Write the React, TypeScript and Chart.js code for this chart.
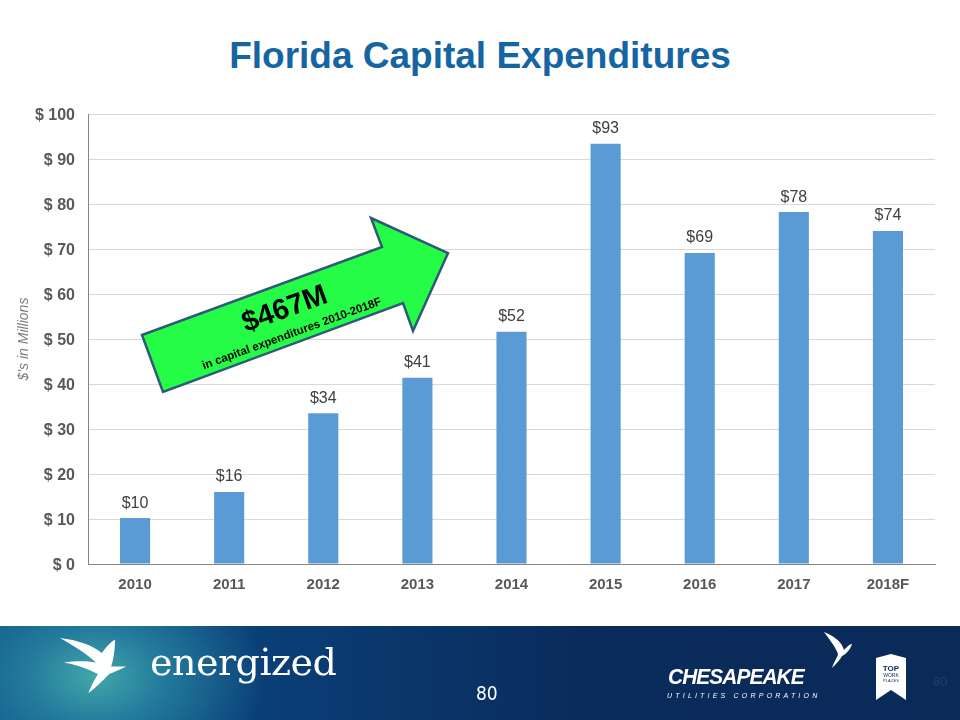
import React, { useEffect, useRef } from "react";
import { Chart, registerables } from "chart.js";

Chart.register(...registerables);

const categories = ["2010", "2011", "2012", "2013", "2014", "2015", "2016", "2017", "2018F"];
const capexValues = [10.2, 16.0, 33.5, 41.4, 51.6, 93.4, 69.1, 78.2, 74.0];
const yTickValues = [0, 10, 20, 30, 40, 50, 60, 70, 80, 90, 100];

const barLabels = {
  id: "barLabels",
  afterDatasetsDraw(chart: any) {
    const ctx = chart.ctx;
    const meta = chart.getDatasetMeta(0);
    ctx.save();
    ctx.font = "16px Arial, 'Liberation Sans', sans-serif";
    ctx.fillStyle = "#404040";
    ctx.textAlign = "center";
    ctx.textBaseline = "bottom";
    meta.data.forEach((el: any, i: number) => {
      const v = chart.data.datasets[0].data[i] as number;
      ctx.fillText("$" + Math.round(v), el.x, el.y - 7);
    });
    ctx.restore();
  },
};

function Bird({ x, y, s }: { x: number; y: number; s: number }) {
  return (
    <svg style={{ position: "absolute", left: x, top: y }} width={80 * s} height={60 * s} viewBox="0 0 80 60">
      <path
        d="M2 2 C20 4 38 10 46 18 C52 10 56 6 60 4 C60 16 58 26 56 32 L72 32 C64 36 58 38 54 40 C46 48 38 56 32 60 C36 50 40 44 42 40 C30 34 18 30 6 28 C18 26 30 26 40 28 C30 18 16 10 2 2 Z"
        fill="#ffffff"
      />
    </svg>
  );
}

export default function App() {
  const canvasRef = useRef<HTMLCanvasElement | null>(null);

  useEffect(() => {
    if (!canvasRef.current) return;
    const chart = new Chart(canvasRef.current, {
      type: "bar",
      data: {
        labels: categories,
        datasets: [
          {
            data: capexValues,
            backgroundColor: "#5b9bd5",
            borderWidth: 0,
            categoryPercentage: 0.8,
            barPercentage: 0.4,
          },
        ],
      },
      options: {
        animation: false,
        responsive: false,
        maintainAspectRatio: false,
        layout: { padding: { top: 114, right: 25, left: 0, bottom: 0 } },
        plugins: {
          legend: { display: false },
          tooltip: { enabled: false },
          title: { display: false },
        },
        scales: {
          x: {
            grid: { display: false },
            border: { display: true, color: "#868686", width: 1 },
            ticks: {
              color: "#595959",
              font: { family: "Arial, 'Liberation Sans', sans-serif", size: 15, weight: "bold" },
              padding: 4,
            },
            afterFit(scale: any) {
              scale.height = 56;
            },
          },
          y: {
            min: 0,
            max: 100,
            afterBuildTicks(scale: any) {
              scale.ticks = yTickValues.map((v) => ({ value: v }));
            },
            grid: { color: "#d9d9d9", lineWidth: 1, drawTicks: false },
            border: { display: true, color: "#868686", width: 1 },
            ticks: {
              color: "#595959",
              font: { family: "Arial, 'Liberation Sans', sans-serif", size: 16, weight: "bold" },
              padding: 13,
              labelOffset: 2,
              callback: (v: any) => "$ " + v,
            },
            title: {
              display: true,
              text: "$'s in Millions",
              color: "#7f7f7f",
              font: { family: "Arial, 'Liberation Sans', sans-serif", size: 14, style: "italic" },
              padding: { top: 16, bottom: 0 },
            },
            afterFit(scale: any) {
              scale.width = 88;
            },
          },
        },
      },
      plugins: [barLabels],
    });
    return () => chart.destroy();
  }, []);

  const arrowPts = "142,335 382,247 371,218 448,253 413,331 403,303 163,392";

  return (
    <div style={{ position: "fixed", left: 0, top: 0, width: 960, height: 720, background: "#ffffff", overflow: "hidden", fontFamily: "Arial, 'Liberation Sans', sans-serif" }}>
      <div style={{ position: "absolute", left: 0, top: 35, width: 960, textAlign: "center", color: "#1565a3", fontSize: 37, fontWeight: "bold", fontFamily: "Arial, 'Liberation Sans', sans-serif" }}>
        Florida Capital Expenditures
      </div>
      <canvas ref={canvasRef} width={960} height={620} style={{ position: "absolute", left: 0, top: 0, width: 960, height: 620 }} />
      <svg style={{ position: "absolute", left: 0, top: 0 }} width={960} height={620}>
        <polygon points={arrowPts} fill="#25fc46" stroke="#2e5a7a" strokeWidth={2.5} strokeLinejoin="miter" />
        <text x={285} y={310} transform="rotate(-20 285 310)" textAnchor="middle" dominantBaseline="middle" fontFamily="Arial, 'Liberation Sans', sans-serif" fontWeight="bold" fontSize={29} fill="#000">
          $467M
        </text>
        <text x={292} y={334} transform="rotate(-20 292 334)" textAnchor="middle" dominantBaseline="middle" fontFamily="Arial, 'Liberation Sans', sans-serif" fontWeight="bold" fontSize={11.5} fill="#000">
          in capital expenditures 2010-2018F
        </text>
      </svg>
      <div
        style={{
          position: "absolute",
          left: 0,
          top: 626,
          width: 960,
          height: 94,
          background:
            "radial-gradient(ellipse 170px 120px at 95px 50px, #42a7aa 0%, #237a9c 40%, rgba(10,50,100,0) 100%), linear-gradient(90deg, #0d4f8a 0%, #0a3d75 30%, #0a2c5c 60%, #0a2a58 100%)",
        }}
      >
        <Bird x={58} y={10} s={0.95} />
        <div style={{ position: "absolute", left: 150, top: 14, color: "#ffffff", fontFamily: "'DejaVu Serif', serif", fontSize: 38, fontWeight: 300, letterSpacing: -0.5 }}>
          energized
        </div>
        <div style={{ position: "absolute", left: 476, top: 56, color: "#ffffff", fontFamily: "'Liberation Sans Narrow', 'DejaVu Sans Condensed', Arial, sans-serif", fontSize: 19 }}>
          80
        </div>
        <div style={{ position: "absolute", left: 668, top: 38, color: "#ffffff", fontFamily: "Arial, sans-serif", fontSize: 22, fontWeight: 900, fontStyle: "italic", letterSpacing: -1, transform: "scaleX(0.95)", transformOrigin: "left" }}>
          CHESAPEAKE
        </div>
        <div style={{ position: "absolute", left: 667, top: 66, color: "#ffffff", fontFamily: "Arial, sans-serif", fontSize: 7, fontStyle: "italic", letterSpacing: 3.2 }}>
          UTILITIES CORPORATION
        </div>
        <svg style={{ position: "absolute", left: 820, top: 4 }} width={40} height={40} viewBox="0 0 40 40">
          <path d="M4 2 C14 6 22 12 24 20 C28 16 30 14 32 14 C30 20 26 24 22 26 C20 30 16 34 12 38 C14 32 18 26 18 24 C16 18 10 10 4 2 Z" fill="#ffffff" />
        </svg>
        <svg style={{ position: "absolute", left: 876, top: 28 }} width={30} height={46} viewBox="0 0 30 46">
          <path d="M0 4 L15 0 L30 4 L30 46 L15 36 L0 46 Z" fill="#ffffff" />
          <text x={15} y={17} textAnchor="middle" fontFamily="Arial, sans-serif" fontWeight="bold" fontSize={8} fill="#0a2c5c">TOP</text>
          <text x={15} y={23} textAnchor="middle" fontFamily="Arial, sans-serif" fontSize={5} fill="#0a2c5c">WORK</text>
          <text x={15} y={28} textAnchor="middle" fontFamily="Arial, sans-serif" fontSize={4} fill="#0a2c5c">PLACES</text>
        </svg>
        <div style={{ position: "absolute", left: 933, top: 48, color: "#1d3f6e", fontFamily: "Arial, sans-serif", fontSize: 13 }}>
          80
        </div>
      </div>
    </div>
  );
}
